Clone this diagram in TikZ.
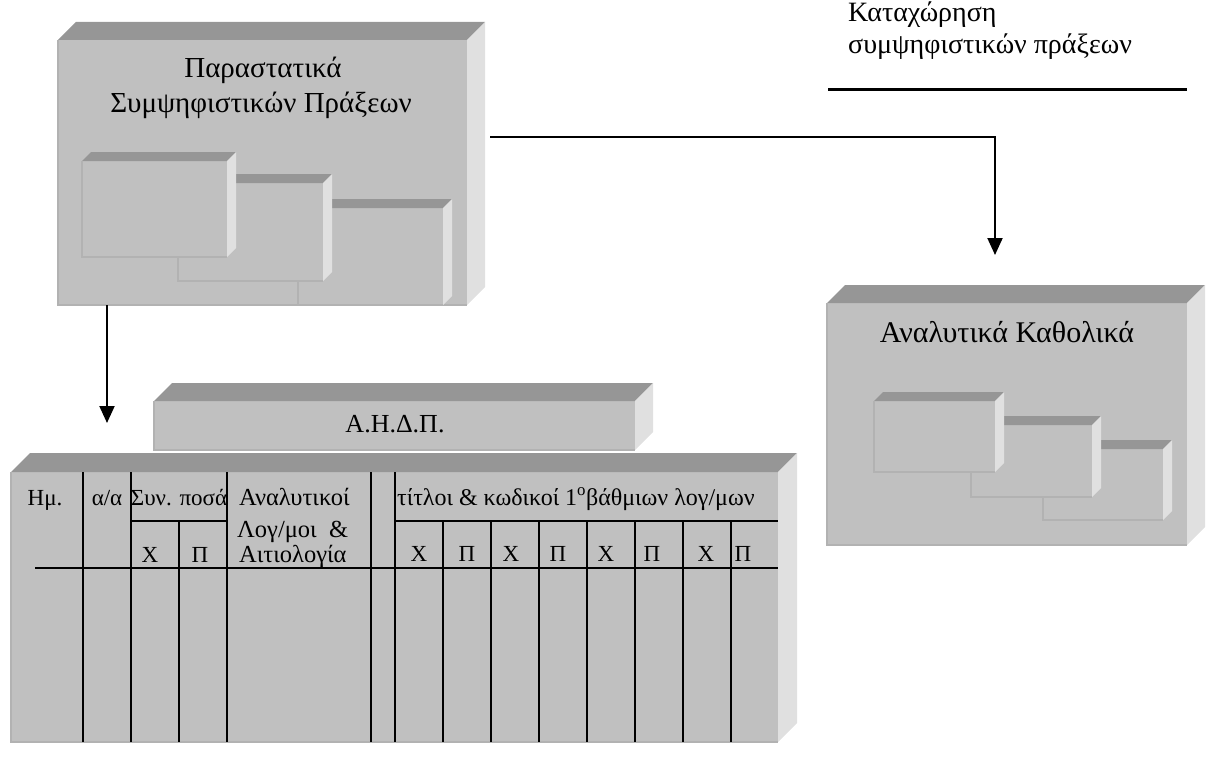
\documentclass[tikz,border=0pt]{standalone}
\usepackage{fontspec}
\setmainfont{Liberation Serif}
\usetikzlibrary{arrows.meta,calc,fit}

\definecolor{facefront}{HTML}{C0C0C0}
\definecolor{facetop}{HTML}{969696}
\definecolor{faceside}{HTML}{E0E0E0}
\definecolor{faceedge}{HTML}{B2B2B2}

\tikzset{
  cubefront/.style={fill=facefront, inner sep=0pt, outer sep=0pt},
  cubetop/.style={fill=facetop},
  cubeside/.style={fill=faceside},
  cubeedge/.style={draw=faceedge, line width=1.2pt},
  conn/.style={line width=2pt, -{Triangle[width=15pt,length=17pt]}},
  grid/.style={line width=2pt},
  plain/.style={inner sep=0pt, anchor=base},
  biglabel/.style={plain, font=\fontsize{29}{35}\selectfont},
  celltext/.style={plain, font=\fontsize{23}{27}\selectfont},
  acctext/.style={plain, anchor=base west, font=\fontsize{24.5}{28}\selectfont},
  notetext/.style={plain, anchor=base west, font=\fontsize{28}{32}\selectfont},
}

% solid block: name, left, top, right, bottom, depth
\newcommand\solidblock[6]{%
  \coordinate (#1-nw) at (#2,#3);
  \coordinate (#1-se) at (#4,#5);
  \node[cubefront, fit=(#1-nw)(#1-se)] (#1) {};
  \fill[cubetop] (#1.north west) -- ++(#6,-#6) -- ($(#1.north east)+(#6,-#6)$) -- (#1.north east) -- cycle;
  \fill[cubeside] (#1.north east) -- ++(#6,-#6) -- ($(#1.south east)+(#6,-#6)$) -- (#1.south east) -- cycle;
  \draw[cubeedge] (#1.north west) -- (#1.south west) -- (#1.south east);
}

\begin{document}
\begin{tikzpicture}[x=1pt,y=-1pt]
\useasboundingbox (0,0) rectangle (1209,757);

% documents block with stacked sheets
\solidblock{docs}{58}{40}{467}{305}{18}
\solidblock{docsC}{298}{208}{443}{305}{9}
\solidblock{docsB}{178}{183}{323}{281}{9}
\solidblock{docsA}{82}{161}{227}{257}{9}
\node[biglabel] (docslabel1) at (263,78) {Παραστατικά};
\node[biglabel] (docslabel2) at (261,113) {Συμψηφιστικών Πράξεων};

% ledger block with stacked sheets
\solidblock{ledger}{827}{303}{1187}{545}{18}
\solidblock{ledgerC}{1043}{449}{1163}{520}{9}
\solidblock{ledgerB}{971}{425}{1092}{497}{9}
\solidblock{ledgerA}{874}{401}{995}{472}{9}
\node[biglabel, font=\fontsize{30}{35}\selectfont] (ledgerlabel) at (1007,342) {Αναλυτικά Καθολικά};

% journal title bar
\solidblock{journal}{154}{401}{635}{450}{18}
\node[biglabel, font=\fontsize{26}{30}\selectfont] (journallabel) at (395,432) {Α.Η.Δ.Π.};

% journal table
\solidblock{tbl}{11}{472}{778}{742}{19}

% table rulings
\foreach \x in {83,131,227,371,395}
  \draw[grid] (\x,472) -- (\x,742);
\foreach \x in {179,443,491,539,587,635,683,731}
  \draw[grid] (\x,521) -- (\x,742);
\draw[grid] (131,521) -- (227,521);
\draw[grid] (395,521) -- (778,521);
\draw[grid] (35,568) -- (778,568);

% table headings
\node[celltext] (hdate) at (45,505) {Ημ.};
\node[celltext] (hno) at (107,505) {α/α};
\node[celltext] (hsum) at (179,505) {Συν. ποσά};
\node[acctext] (hacc1) at (239,505) {Αναλυτικοί};
\node[acctext] (hacc2) at (237,537) {Λογ/μοι\ \ \&};
\node[acctext] (hacc3) at (239,562) {Αιτιολογία};
\node[celltext, anchor=base west, font=\fontsize{24}{28}\selectfont] (htitles) at (397,505) {τίτλοι \& κωδικοί 1\textsuperscript{ο}βάθμιων λογ/μων};
\node[celltext] (sx) at (150,562) {Χ};
\node[celltext] (sp) at (200,562) {Π};
\foreach \x/\t [count=\i] in {419/Χ,467/Π,511/Χ,558/Π,606/Χ,652/Π,706/Χ,743/Π}
  \node[celltext] (dc\i) at (\x,561) {\t};

% note on posting
\node[notetext] (note1) at (848,22) {Καταχώρηση};
\node[notetext] (note2) at (848,54) {συμψηφιστικών πράξεων};
\coordinate (ruleL) at (828,90);
\coordinate (ruleR) at (1187,90);
\draw[line width=3pt] (ruleL) -- (ruleR);

% connectors
\coordinate (tipJ) at (107,423);
\draw[conn] (docs.south -| tipJ) -- (tipJ);
\coordinate (startL) at (490,137);
\coordinate (tipL) at (995,255);
\draw[conn] (startL) -- (startL -| tipL) -- (tipL);
\end{tikzpicture}
\end{document}
